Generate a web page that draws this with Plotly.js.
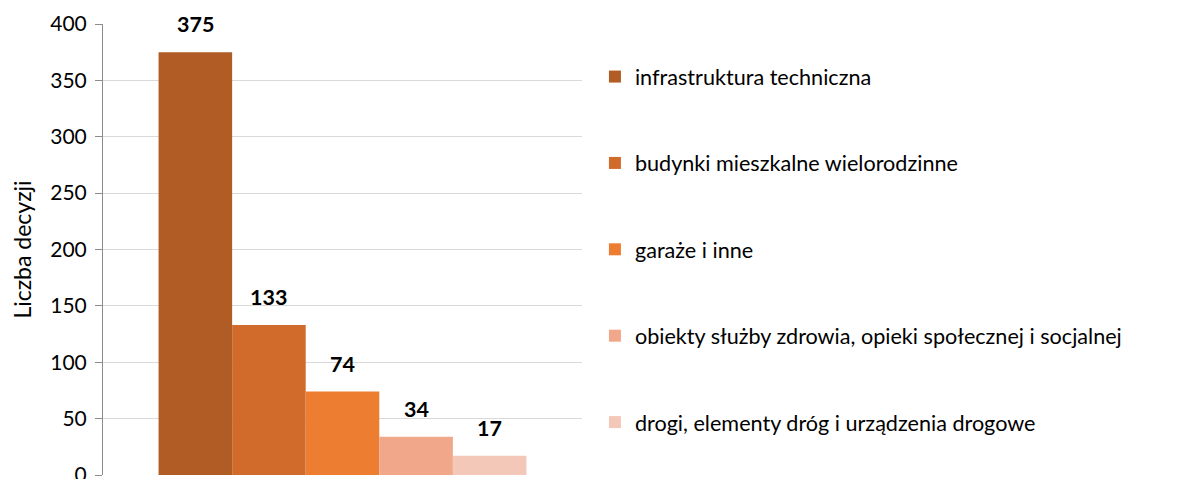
<!DOCTYPE html>
<html>
<head>
<meta charset="utf-8">
<script src="https://cdn.plot.ly/plotly-3.0.1.min.js"></script>
<style>html,body{margin:0;padding:0;background:#fff;}#chart{width:1193px;height:479px;}</style>
</head>
<body>
<div id="chart"></div>
<script>
const category = [''];
const seriesNames = [
  'infrastruktura techniczna',
  'budynki mieszkalne wielorodzinne',
  'garaże i inne',
  'obiekty służby zdrowia, opieki społecznej i socjalnej',
  'drogi, elementy dróg i urządzenia drogowe'
];
const seriesValues = [375, 133, 74, 34, 17];
const seriesColors = ['#B05C24', '#D06B2C', '#ED7D31', '#F0A78A', '#F4C8B9'];
const yTickVals = [0, 50, 100, 150, 200, 250, 300, 350, 400];

const W = 1193, H = 479;
const margin = {l: 103, r: 611, t: 24, b: 4};
const bargap = 0.232;
const plotW = W - margin.l - margin.r;
const barPx = plotW * (1 - bargap) / seriesValues.length;

const FONT = 'Lato, "Open Sans", sans-serif';

const traces = seriesNames.map((name, i) => ({
  type: 'bar',
  name: name,
  x: category,
  y: [seriesValues[i]],
  marker: {color: seriesColors[i], line: {width: 0}},
  legendgroup: 'g' + i,
  hoverinfo: 'y+name'
}));

const annotations = seriesValues.map((v, i) => ({
  x: 0, y: v, xref: 'x', yref: 'y',
  xshift: (i - (seriesValues.length - 1) / 2) * barPx,
  yshift: 13,
  yanchor: 'bottom',
  text: '<b>' + v + '</b>',
  showarrow: false,
  font: {family: FONT, size: 21.5, color: '#000'}
}));

const layout = {
  width: W, height: H,
  margin: margin,
  paper_bgcolor: '#fff', plot_bgcolor: '#fff',
  barmode: 'group',
  bargap: bargap,
  bargroupgap: 0,
  font: {family: FONT, size: 21, color: '#000'},
  xaxis: {
    type: 'category',
    showticklabels: false,
    ticks: '',
    showgrid: false,
    zeroline: false,
    showline: false,
    fixedrange: true
  },
  yaxis: {
    range: [0, 400],
    tickvals: yTickVals,
    ticktext: yTickVals.map(String),
    showgrid: true,
    gridcolor: '#D9D9D9',
    gridwidth: 1,
    zeroline: false,
    showline: true,
    linecolor: '#8C8C8C',
    linewidth: 1,
    ticks: 'outside',
    ticklen: 7,
    tickcolor: '#8C8C8C',
    ticklabelstandoff: 4,
    ticklabeloverflow: 'allow',
    tickfont: {family: FONT, size: 21, color: '#000'},
    title: {text: 'Liczba decyzji', font: {family: FONT, size: 23, color: '#000'}, standoff: 12},
    fixedrange: true
  },
  showlegend: true,
  legend: {
    x: 1.027, xanchor: 'left',
    y: 0.929, yanchor: 'top',
    orientation: 'v',
    traceorder: 'grouped',
    tracegroupgap: 55.3,
    font: {family: FONT, size: 21.6, color: '#000'},
    itemwidth: 30,
    bgcolor: 'rgba(0,0,0,0)'
  },
  annotations: annotations
};

Plotly.newPlot('chart', traces, layout, {displayModeBar: false, staticPlot: true});
</script>
</body>
</html>
